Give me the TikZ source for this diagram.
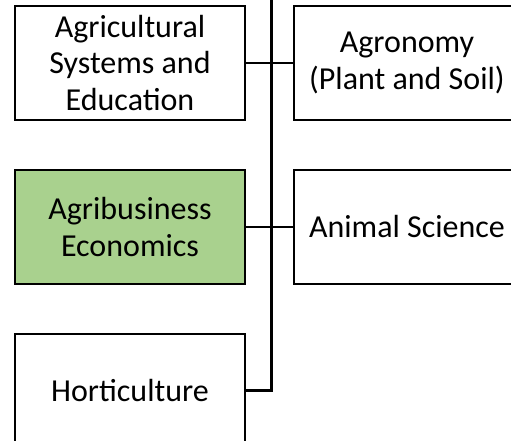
\documentclass[tikz,border=0pt]{standalone}
\usepackage{fontspec}
\setmainfont{Carlito}
\usepackage{xcolor}
\usetikzlibrary{positioning}
\definecolor{deptgreen}{HTML}{A9D18E}

\begin{document}
\begin{tikzpicture}[
  x=1pt, y=1pt,
  node distance=48pt and 47pt,
  box/.style={draw, line width=2pt, minimum width=230pt, minimum height=114pt, inner sep=0pt, align=center, font=\fontsize{32}{36.5}\selectfont},
  dept/.style={box, fill=white},
  wide/.style={dept, minimum width=226pt},
  hilite/.style={box, fill=deptgreen},
  link/.style={line width=2pt},
  trunk/.style={line width=3pt}
]
\useasboundingbox (0,0) rectangle (511,441);
\clip (0,0) rectangle (511,441);
\node[dept] (ase) at (130,378) {Agricultural\\Systems and\\Education};
\node[wide, right=of ase] (agron) {Agronomy\\(Plant and Soil)};
\node[hilite, below=of ase] (agbus) {Agribusiness\\Economics};
\node[wide, right=of agbus] (ansci) {Animal Science};
\node[dept, below=of agbus] (hort) {Horticulture};
\coordinate (top) at (271,446);
\draw[link] (ase.east) -- (agron.west);
\draw[link] (agbus.east) -- (ansci.west);
\draw[trunk] (top) |- (hort.east);
\end{tikzpicture}
\end{document}
